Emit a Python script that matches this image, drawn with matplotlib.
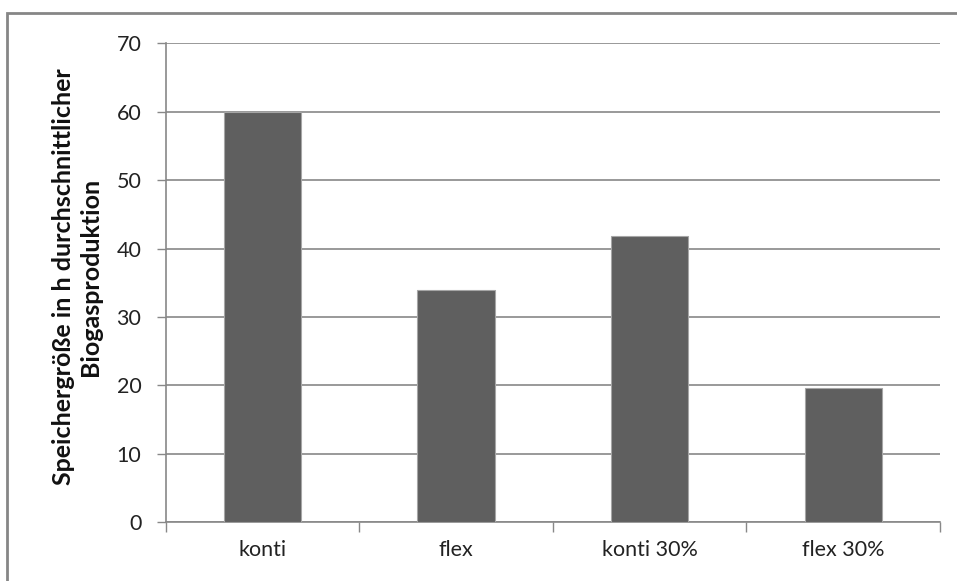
import matplotlib
matplotlib.use("Agg")
import matplotlib.pyplot as plt
from matplotlib.patches import Rectangle

categories = ["konti", "flex", "konti 30%", "flex 30%"]
values = [60.0, 34.0, 41.8, 19.7]
yticks = [0, 10, 20, 30, 40, 50, 60, 70]
ylabel = "Speichergröße in h durchschnittlicher\nBiogasproduktion"

plt.rcParams["font.family"] = ["Lato", "DejaVu Sans"]

fig = plt.figure(figsize=(9.57, 5.81), dpi=100)
ax = fig.add_axes([0.1731, 0.1010, 0.9823 - 0.1731, 0.9255 - 0.1010])

grid_color = "#888888"
x = list(range(len(categories)))
ax.bar(x, values, width=0.4, color="#5f5f5f", edgecolor="#a6a6a6",
       linewidth=0.8, zorder=3)

ax.set_xlim(-0.5, len(categories) - 0.5)
ax.set_ylim(0, 70)
ax.set_yticks(yticks)
ax.set_yticklabels([str(t) for t in yticks], fontsize=15.5, color="#222222")

# category labels sit between boundary ticks
ax.set_xticks(x)
ax.set_xticklabels(categories, fontsize=15.5, color="#222222")
ax.tick_params(axis="x", which="major", length=0, pad=13)
ax.set_xticks([i + 0.5 for i in range(-1, len(categories))], minor=True)
ax.tick_params(axis="x", which="minor", length=7.2, color=grid_color, width=1)
ax.tick_params(axis="y", length=6.5, color=grid_color, width=1, pad=11)

ax.yaxis.grid(True, color=grid_color, linewidth=1.2, zorder=0)
ax.set_axisbelow(True)
for side in ["top", "right"]:
    ax.spines[side].set_visible(False)
for side in ["left", "bottom"]:
    ax.spines[side].set_color(grid_color)
    ax.spines[side].set_linewidth(1.2)

fig.text(77 / 957, 1 - 277 / 581, ylabel, rotation=90, ha="center", va="center",
         fontsize=18, fontweight="bold", color="#111111", linespacing=1.2)

# outer chart frame
fig.patches.append(Rectangle((7.5 / 957, -0.2), 1.5, 1.2 - 12.7 / 581,
                             transform=fig.transFigure, fill=False,
                             edgecolor="#868686", linewidth=2, clip_on=False))

fig.savefig("out.png", dpi=100)
